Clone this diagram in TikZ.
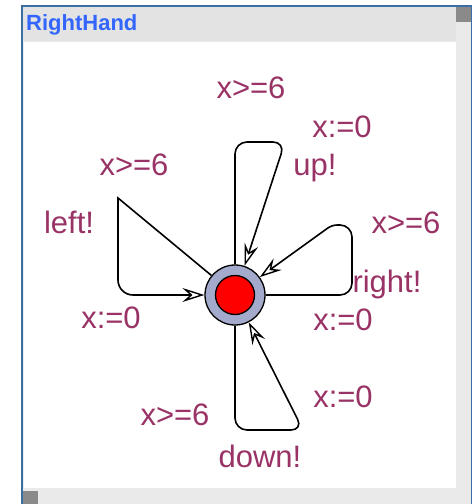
\documentclass[tikz,border=0pt]{standalone}
\usepackage{fontspec}
\setmainfont{Liberation Sans}
\usetikzlibrary{arrows.meta}
\definecolor{uppaal-label}{HTML}{993366}
\definecolor{uppaal-title}{HTML}{3366FF}
\definecolor{uppaal-frame}{HTML}{3A6EA5}
\definecolor{uppaal-bar}{HTML}{E3E3E3}
\definecolor{uppaal-scroll}{HTML}{EAEAEA}
\definecolor{uppaal-knob}{HTML}{8A8A8A}
\definecolor{uppaal-ring}{HTML}{A3AACC}

\begin{document}
\begin{tikzpicture}[x=1pt,y=-1pt,
  lbl/.style={text=uppaal-label,font=\fontsize{31}{31}\selectfont,anchor=base,inner sep=0pt},
  edge/.style={line width=1.6pt,-{Stealth[open,length=22pt,width=14pt,inset=8pt,line width=1.4pt]},rounded corners=12pt}]
  \useasboundingbox (0,0) rectangle (472,504);

  % Vindue
  \fill[uppaal-frame] (21,5) rectangle (472,504);
  \fill[uppaal-scroll] (23,7) rectangle (471,504);
  \fill[uppaal-bar] (23,7) rectangle (456,41);
  \fill[white] (24,42) rectangle (456,488);
  \fill[uppaal-knob] (456,7) rectangle (471,22);
  \fill[uppaal-knob] (23,491) rectangle (38,504);
  \node[anchor=base west,inner sep=0pt,text=uppaal-title,font=\bfseries\fontsize{22}{22}\selectfont] (title) at (26,30) {RightHand};

  % Lokation
  \node[circle,draw,line width=1.3pt,fill=uppaal-ring,minimum size=60pt,inner sep=0pt] (loc) at (235,295) {};
  \node[circle,draw,line width=1.3pt,fill=red,minimum size=39pt,inner sep=0pt] (core) at (loc) {};

  % Knaekpunkter
  \coordinate (up1) at (235,142);
  \coordinate (up2) at (285,142);
  \coordinate (rt1) at (352,295);
  \coordinate (rt2) at (352,225);
  \coordinate (rt3) at (332,225);
  \coordinate (dn1) at (235,430);
  \coordinate (dn2) at (303,430);
  \coordinate (lf1) at (118,198);
  \coordinate (lf2) at (118,295);

  % Kanter
  \draw[edge] (loc.north) -- (up1) -- (up2) -- (loc);
  \draw[edge] (loc.east) -- (rt1) -- (rt2) [rounded corners=5pt] -- (rt3) -- (loc);
  \draw[edge] (loc.south) -- (dn1) -- (dn2) -- (loc);
  \draw[edge,rounded corners=0pt] (loc) -- (lf1) [rounded corners=15pt] -- (lf2) -- (loc.west);

  % Etiketter
  \node[lbl] (g-up) at (251,98) {x>=6};
  \node[lbl] (a-up) at (342,137) {x:=0};
  \node[lbl] (s-up) at (315,175) {up!};
  \node[lbl] (g-lf) at (134,175) {x>=6};
  \node[lbl] (s-lf) at (69,233) {left!};
  \node[lbl] (a-lf) at (111,328) {x:=0};
  \node[lbl] (g-rt) at (406,233) {x>=6};
  \node[lbl] (s-rt) at (387,292) {right!};
  \node[lbl] (a-rt) at (343,330) {x:=0};
  \node[lbl] (a-dn) at (343,407) {x:=0};
  \node[lbl] (g-dn) at (175,425) {x>=6};
  \node[lbl] (s-dn) at (260,467) {down!};
\end{tikzpicture}
\end{document}
